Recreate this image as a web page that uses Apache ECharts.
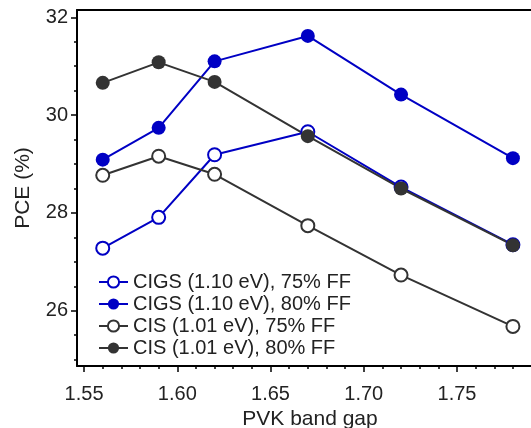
<!DOCTYPE html>
<html>
<head>
<meta charset="utf-8">
<script src="https://cdn.jsdelivr.net/npm/echarts@6/dist/echarts.min.js"></script>
<style>
html,body{margin:0;padding:0;background:#fff;}
#chart{width:531px;height:428px;}
</style>
</head>
<body>
<div id="chart"></div>
<script>
// ---- data ----
const bandGap = [1.56, 1.59, 1.62, 1.67, 1.72, 1.78];
const cigs75 = [27.28, 27.91, 29.19, 29.66, 28.53, 27.35];
const cigs80 = [29.09, 29.74, 31.10, 31.62, 30.42, 29.12];
const cis75  = [28.77, 29.16, 28.79, 27.74, 26.73, 25.68];
const cis80  = [30.66, 31.08, 30.68, 29.57, 28.50, 27.34];
const seriesNames = ['CIGS (1.10 eV), 75% FF', 'CIGS (1.10 eV), 80% FF', 'CIS (1.01 eV), 75% FF', 'CIS (1.01 eV), 80% FF'];
const xTickLabels = [1.55, 1.60, 1.65, 1.70, 1.75];
const xMinorTicks = [1.56, 1.57, 1.58, 1.59, 1.61, 1.62, 1.63, 1.64, 1.66, 1.67, 1.68, 1.69, 1.71, 1.72, 1.73, 1.74, 1.76, 1.77, 1.78, 1.79];
const yTickLabels = [26, 28, 30, 32];
const yMinorTicks = [25, 25.5, 26.5, 27, 27.5, 28.5, 29, 29.5, 30.5, 31, 31.5];

const X_MIN = 1.5462, X_MAX = 1.7897;
const Y_MIN = 24.87, Y_MAX = 32.15;

const BLUE = '#0000c4';
const DARK = '#333333';
const FONT = 'Liberation Sans, Arial, sans-serif';

function pairs(ys) { return bandGap.map((x, i) => [x, ys[i]]); }

function mkSeries(name, ys, color, filled) {
  return {
    name: name,
    type: 'line',
    data: pairs(ys),
    symbol: filled ? 'circle' : 'emptyCircle',
    symbolSize: filled ? 14 : 13,
    lineStyle: { color: color, width: 2 },
    itemStyle: { color: color, borderColor: color, borderWidth: filled ? 0 : 2 },
    emphasis: { disabled: true },
    animation: false
  };
}

const chart = echarts.init(document.getElementById('chart'), null, { renderer: 'canvas' });
chart.setOption({
  animation: false,
  backgroundColor: '#ffffff',
  grid: { left: 77, right: 0, top: 10, bottom: 62, containLabel: false, outerBoundsMode: 'none' },
  legend: {
    orient: 'vertical',
    left: 93,
    top: 267,
    itemWidth: 29,
    itemHeight: 14,
    itemGap: 2,
    itemTextGap: 7,
    data: seriesNames,
    textStyle: { fontFamily: FONT, fontSize: 20, color: '#222', lineHeight: 20 },
    selectedMode: false
  },
  xAxis: [
    {
      type: 'value', min: X_MIN, max: X_MAX, position: 'bottom',
      name: 'PVK band gap', nameLocation: 'middle', nameGap: 43,
      nameTextStyle: { fontFamily: FONT, fontSize: 21, color: '#222', padding: [0, 0, 0, 12] },
      axisLine: { show: true, lineStyle: { color: '#000', width: 2 } },
      axisTick: { show: true, inside: false, length: 6, lineStyle: { color: '#000', width: 1.5 }, customValues: xTickLabels },
      axisLabel: { show: true, margin: 18, fontFamily: FONT, fontSize: 20, color: '#222',
        customValues: xTickLabels, formatter: v => Number(v).toFixed(2) },
      splitLine: { show: false }
    },
    {
      type: 'value', min: X_MIN, max: X_MAX, position: 'bottom',
      axisLine: { show: false },
      axisTick: { show: true, inside: false, length: 3, lineStyle: { color: '#000', width: 1.5 }, customValues: xMinorTicks },
      axisLabel: { show: false },
      splitLine: { show: false }
    },
    {
      type: 'value', min: X_MIN, max: X_MAX, position: 'top',
      axisLine: { show: true, lineStyle: { color: '#000', width: 2 } },
      axisTick: { show: false },
      axisLabel: { show: false },
      splitLine: { show: false }
    }
  ],
  yAxis: [
    {
      type: 'value', min: Y_MIN, max: Y_MAX, position: 'left',
      name: 'PCE (%)', nameLocation: 'middle', nameGap: 43, nameRotate: 90,
      nameTextStyle: { fontFamily: FONT, fontSize: 21, color: '#222' },
      axisLine: { show: true, lineStyle: { color: '#000', width: 2 } },
      axisTick: { show: true, inside: false, length: 6, lineStyle: { color: '#000', width: 1.5 }, customValues: yTickLabels },
      axisLabel: { show: true, margin: 9, fontFamily: FONT, fontSize: 20, color: '#222', customValues: yTickLabels },
      splitLine: { show: false }
    },
    {
      type: 'value', min: Y_MIN, max: Y_MAX, position: 'left',
      axisLine: { show: false },
      axisTick: { show: true, inside: false, length: 3, lineStyle: { color: '#000', width: 1.5 }, customValues: yMinorTicks },
      axisLabel: { show: false },
      splitLine: { show: false }
    }
  ],
  series: [
    mkSeries(seriesNames[0], cigs75, BLUE, false),
    mkSeries(seriesNames[1], cigs80, BLUE, true),
    mkSeries(seriesNames[2], cis75, DARK, false),
    mkSeries(seriesNames[3], cis80, DARK, true)
  ]
});
</script>
</body>
</html>
